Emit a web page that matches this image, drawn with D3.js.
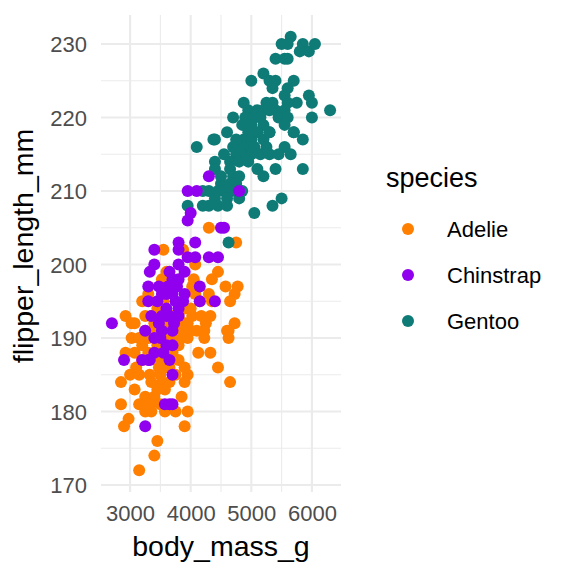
<!DOCTYPE html>
<html><head><meta charset="utf-8">
<script src="https://cdn.jsdelivr.net/npm/d3@7"></script>
<style>body{margin:0;background:#fff}svg{display:block}text{font-family:"Liberation Sans",Arial,sans-serif}</style>
</head><body>
<script>
const speciesNames = ["Adelie", "Chinstrap", "Gentoo"];
const speciesColors = ["#FF7F00", "#9000EE", "#0F7B77"];
const xTicks = [3000, 4000, 5000, 6000];
const yTicks = [170, 180, 190, 200, 210, 220, 230];
// [body_mass_g, flipper_length_mm]
const adelie = [[4300,205],[4750,203],[3550,202],[3875,202],[4075,200],[4450,199],[3525,198],[4350,198],[4575,197],[4775,197],[4725,196],[4650,195],[4025,197],[4075,196],[4300,196],[4350,195],[3200,195],[2925,193],[3025,192],[3250,193],[3350,193],[4025,193],[4175,193],[4325,193],[4250,192],[4600,191],[4725,192],[3575,192],[3950,192],[3075,192],[3250,191],[3400,192],[3750,191],[3900,192],[4000,191],[4225,191],[3025,190],[3950,190],[4225,190],[4625,191],[4625,190],[2925,188],[3075,188],[4125,188],[4325,188],[3800,187],[4450,186],[3000,185],[3150,185],[3325,185],[3475,186],[3575,186],[3950,185],[2850,184],[3350,184],[3525,184],[3900,184],[4650,184],[3075,183],[3575,183],[3250,182],[3400,182],[3150,181],[3325,181],[2850,181],[3575,180],[3750,180],[3950,180],[2975,179],[2900,178],[3900,178],[3450,176],[3400,174],[3150,172],[3300,190],[3450,189],[3600,190],[3800,189],[3850,190],[3700,188],[3500,187],[3300,188],[3200,189],[3900,186],[3650,184],[3450,183],[3750,185],[3850,191],[3550,195],[3700,193],[3900,194],[3450,194],[3300,196],[3750,197],[4050,198],[3600,199],[4000,194],[3150,190],[3100,186],[3850,182],[3350,180],[3250,180],[3500,181],[3200,187],[3400,191],[3650,186],[3500,185],[4100,191],[4150,195],[3700,190],[3800,193],[3600,188]];
const gentoo = [[5650,231],[5500,230],[5600,230],[5850,230],[5800,229],[5950,229],[6050,230],[5400,228],[5550,228],[5600,228],[5000,225],[5200,226],[5300,225],[5400,225],[5700,225],[5350,224],[5600,224],[5550,223],[5950,223],[6000,222],[6300,221],[5750,222],[4875,222],[5250,222],[5350,222],[5600,222],[4950,221],[5100,221],[5200,221],[5300,221],[5400,221],[5550,221],[4700,220],[5050,220],[5150,220],[5450,220],[5600,220],[6000,220],[4600,218],[4850,219],[4950,218],[5200,219],[5300,218],[5550,219],[5700,218],[4375,217],[5850,217],[4875,217],[5200,217],[4100,216],[4400,217],[4700,216],[4800,216],[4900,216],[5000,217],[5300,218],[5700,218],[5550,216],[5150,215],[5300,215],[5450,215],[5650,215],[4750,215],[4850,215],[5000,215],[4400,214],[4650,214],[4800,214],[5100,213],[5200,212],[5400,213],[5850,213],[4400,213],[4650,213],[4700,212],[4800,212],[4500,211],[4650,211],[4750,211],[4200,210],[4300,210],[4450,210],[4550,210],[4675,210],[4400,209],[4600,209],[4800,209],[4200,208],[4300,208],[4450,208],[4600,208],[3950,208],[5050,207],[5350,208],[5500,209],[4625,203],[4900,220],[5000,219],[5100,218],[4750,217],[4950,214],[5050,216],[4850,210],[4500,212],[4550,215],[5250,216]];
const chinstrap = [[4300,212],[3950,210],[4100,210],[4800,210],[4000,207],[3950,206],[4500,205],[4550,205],[4075,203],[3800,202],[3400,202],[3950,201],[4075,201],[4300,201],[4450,201],[3400,200],[3800,200],[3325,199],[3900,199],[3700,198],[3800,198],[3300,197],[3475,197],[3625,197],[4150,197],[3525,196],[3700,196],[3900,196],[3300,195],[3600,194],[3800,194],[3875,195],[4150,195],[4400,195],[3525,193],[3650,193],[3800,193],[2700,192],[3250,191],[3475,192],[3725,192],[3400,190],[3525,191],[3700,191],[3700,189],[3550,188],[2900,187],[3200,187],[3325,187],[3650,187],[3700,185],[3575,181],[3700,181],[3650,181],[3250,178],[3450,195],[3600,196],[3750,195],[3500,190],[3600,189],[3350,193],[3650,199],[3775,197],[3400,188],[3300,187],[3800,203],[3600,193]];

const W = 576, H = 576;
const svg = d3.select("body").append("svg").attr("width", W).attr("height", H);
const all = adelie.concat(gentoo, chinstrap);
const xe = d3.extent(all, d => d[0]), ye = d3.extent(all, d => d[1]);
const xp = (xe[1]-xe[0])*0.05, yp = (ye[1]-ye[0])*0.05;
const x = d3.scaleLinear().domain([xe[0]-xp, xe[1]+xp]).range([101, 341]);
const y = d3.scaleLinear().domain([ye[0]-yp, ye[1]+yp]).range([492, 15]);

const g = svg.append("g");
const xMinor = d3.range(2500, 6500, 500).filter(v => v % 1000 !== 0 && v > x.domain()[0]);
const yMinor = d3.range(175, 230, 10);
g.selectAll(".xm").data(xMinor).join("line").attr("x1", d=>x(d)).attr("x2", d=>x(d)).attr("y1", 15).attr("y2", 492).attr("stroke", "#EBEBEB").attr("stroke-width", 1.1);
g.selectAll(".ym").data(yMinor).join("line").attr("y1", d=>y(d)).attr("y2", d=>y(d)).attr("x1", 101).attr("x2", 341).attr("stroke", "#EBEBEB").attr("stroke-width", 1.1);
g.selectAll(".xM").data(xTicks).join("line").attr("x1", d=>x(d)).attr("x2", d=>x(d)).attr("y1", 15).attr("y2", 492).attr("stroke", "#EBEBEB").attr("stroke-width", 2.1);
g.selectAll(".yM").data(yTicks).join("line").attr("y1", d=>y(d)).attr("y2", d=>y(d)).attr("x1", 101).attr("x2", 341).attr("stroke", "#EBEBEB").attr("stroke-width", 2.1);

// axes via d3 axis (no domain, no ticks)
const xa = svg.append("g").attr("transform", "translate(0,492)").call(d3.axisBottom(x).tickValues(xTicks).tickSize(0).tickPadding(29).tickFormat(d3.format("d")));
const ya = svg.append("g").attr("transform", "translate(101,0)").call(d3.axisLeft(y).tickValues(yTicks).tickSize(0).tickPadding(14).tickFormat(d3.format("d")));
[xa, ya].forEach(a => { a.select(".domain").remove(); a.selectAll("text").attr("fill", "#4D4D4D").style("font-size", "22px").style("font-family", '"Liberation Sans",Arial,sans-serif'); });
xa.selectAll("text").attr("dy", null).attr("y", 29);
ya.selectAll("text").attr("dy", "0.35em");

const series = [adelie, gentoo, chinstrap];
const sidx = [0, 2, 1];
series.forEach((s, i) => {
  svg.append("g").selectAll("circle").data(s).join("circle")
    .attr("cx", d => x(d[0])).attr("cy", d => y(d[1])).attr("r", 6)
    .attr("fill", speciesColors[sidx[i]]);
});

svg.append("text").attr("x", 221).attr("y", 556).attr("text-anchor", "middle").style("font-size", "28.5px").attr("fill", "#000").text("body_mass_g");
svg.append("text").attr("transform", "translate(33,246) rotate(-90)").attr("text-anchor", "middle").style("font-size", "28.5px").attr("fill", "#000").text("flipper_length_mm");

const leg = svg.append("g");
leg.append("text").attr("x", 386).attr("y", 187).style("font-size", "27px").attr("fill", "#000").text("species");
speciesNames.forEach((n, i) => {
  leg.append("circle").attr("cx", 408).attr("cy", 229 + i*46).attr("r", 6).attr("fill", speciesColors[i]);
  leg.append("text").attr("x", 447).attr("y", 237 + i*46).style("font-size", "22px").attr("fill", "#000").text(n);
});
</script>
</body></html>
